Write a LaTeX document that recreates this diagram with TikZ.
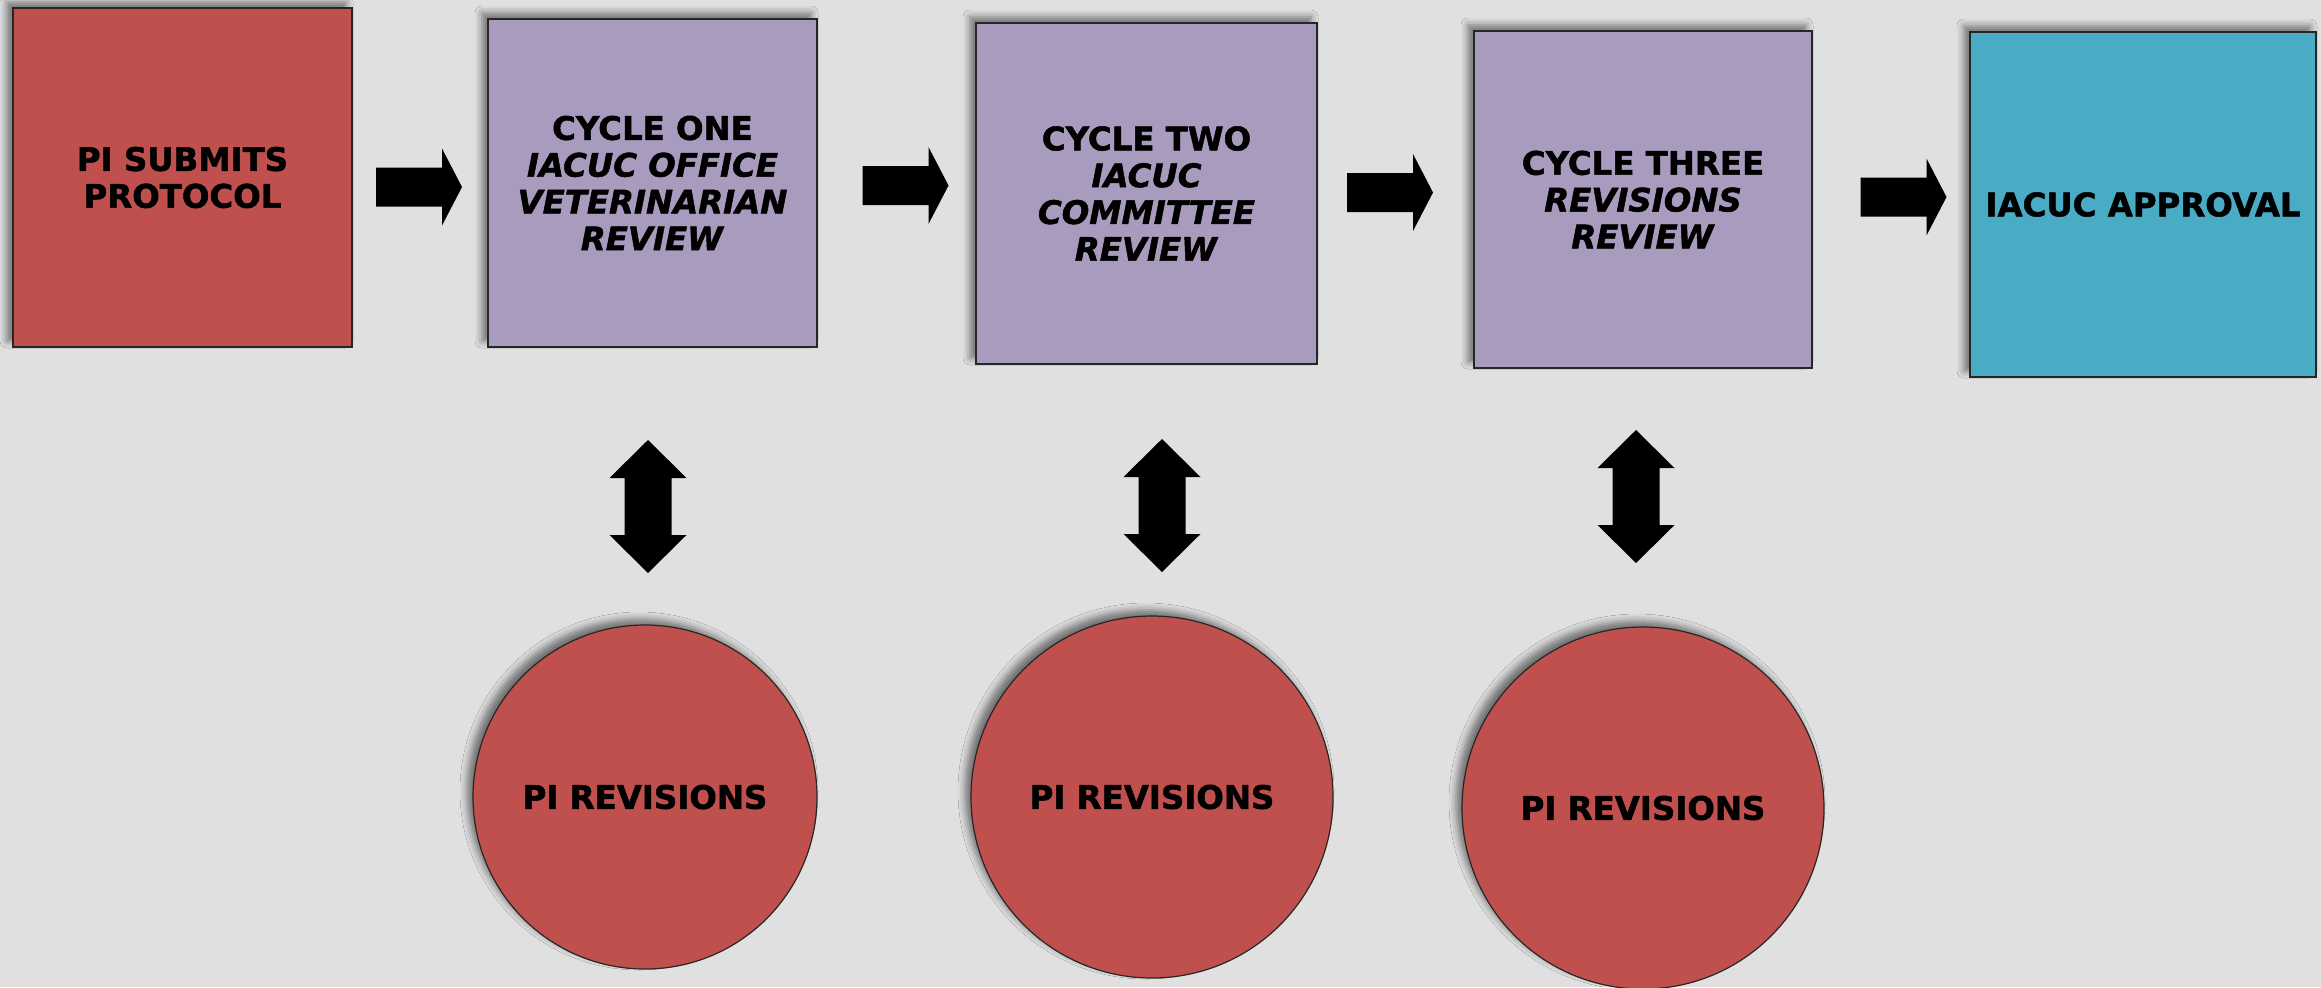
\documentclass[tikz,border=0pt]{standalone}
\usepackage{fontspec}
\setmainfont{DejaVu Sans}
\newfontfamily\heavy{DejaVu Sans}[UprightFont={* Bold}, ItalicFont={* Bold Oblique}, BoldFont={* Bold}, BoldItalicFont={* Bold Oblique}, FakeBold=1.5]
\usetikzlibrary{shadows,shadows.blur}
\definecolor{bg}{RGB}{224,224,224}
\definecolor{boxred}{RGB}{192,80,77}
\definecolor{boxpurple}{RGB}{169,155,190}
\definecolor{boxteal}{RGB}{74,171,197}
\tikzset{
  myshadow/.style={blur shadow={shadow xshift=-3pt, shadow yshift=3pt, shadow blur radius=3.5pt, shadow opacity=50}},
  stepbox/.style={rectangle, draw=black!85, line width=0.6pt, inner sep=0pt, align=center,
    font=\fontsize{16.2}{18.4}\selectfont\heavy, myshadow},
  revcircle/.style={circle, draw=black!85, line width=0.6pt, inner sep=0pt, fill=boxred,
    font=\fontsize{16.2}{18.4}\selectfont\heavy, myshadow},
  rarrow/.pic={\fill[black] (-43,-19.5) -- (23,-19.5) -- (23,-38.5) -- (43,0) -- (23,38.5) -- (23,19.5) -- (-43,19.5) -- cycle;},
  vdarrow/.pic={\fill[black] (0,-66.5) -- (38.5,-28.5) -- (23.5,-28.5) -- (23.5,28.5) -- (38.5,28.5) -- (0,66.5) -- (-38.5,28.5) -- (-23.5,28.5) -- (-23.5,-28.5) -- (-38.5,-28.5) -- cycle;}
}
\begin{document}
\begin{tikzpicture}[x=0.5pt,y=-0.5pt]
\fill[bg] (0,0) rectangle (2321,987);
\useasboundingbox (0,0) rectangle (2321,987);

% top row
\node[stepbox, fill=boxred, minimum width=169.5pt, minimum height=169.5pt] (submit) at (182.5,177.5) {PI SUBMITS\\PROTOCOL};
\node[stepbox, fill=boxpurple, minimum width=164.5pt, minimum height=164pt] (cyc1) at (652.5,183) {CYCLE ONE\\\textit{IACUC OFFICE}\\\textit{VETERINARIAN}\\\textit{REVIEW}};
\node[stepbox, fill=boxpurple, minimum width=170.5pt, minimum height=170.5pt] (cyc2) at (1146.5,193.5) {CYCLE TWO\\\textit{IACUC}\\\textit{COMMITTEE}\\\textit{REVIEW}};
\node[stepbox, fill=boxpurple, minimum width=169pt, minimum height=168.5pt] (cyc3) at (1643,199.5) {CYCLE THREE\\\textit{REVISIONS}\\\textit{REVIEW}};
\node[stepbox, fill=boxteal, minimum width=173pt, minimum height=172.5pt] (approval) at (2143,204.5) {IACUC APPROVAL};

% bottom row
\node[revcircle, minimum size=172pt] (rev1) at (645,797) {PI REVISIONS};
\node[revcircle, minimum size=181pt] (rev2) at (1152,797) {PI REVISIONS};
\node[revcircle, minimum size=181pt] (rev3) at (1643,808) {PI REVISIONS};

% block arrows
\coordinate (a1) at (419,187);
\coordinate (a2) at (905.5,185.5);
\coordinate (a3) at (1390,192.5);
\coordinate (a4) at (1903.5,197);
\pic at (a1) {rarrow};
\pic at (a2) {rarrow};
\pic at (a3) {rarrow};
\pic at (a4) {rarrow};

\coordinate (d1) at (648,506.5);
\coordinate (d2) at (1162,505.5);
\coordinate (d3) at (1636,496.5);
\pic at (d1) {vdarrow};
\pic at (d2) {vdarrow};
\pic at (d3) {vdarrow};
\end{tikzpicture}
\end{document}
